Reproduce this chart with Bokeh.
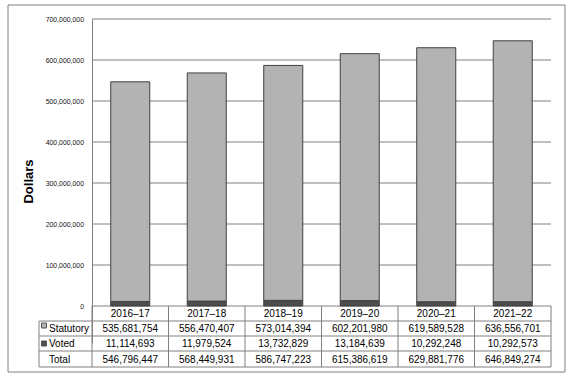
from bokeh.plotting import figure
from bokeh.models import Range1d, FixedTicker, NumeralTickFormatter, ColumnDataSource, LinearAxis
from bokeh.core.properties import value
from bokeh.embed import file_html
from bokeh.resources import INLINE

# ---- data ----
years = ["2016–17", "2017–18", "2018–19", "2019–20", "2020–21", "2021–22"]
statutory = [535681754, 556470407, 573014394, 602201980, 619589528, 636556701]
voted = [11114693, 11979524, 13732829, 13184639, 10292248, 10292573]
total = [546796447, 568449931, 586747223, 615386619, 629881776, 646849274]
row_labels = ["Statutory", "Voted", "Total"]
y_ticks = [0, 100000000, 200000000, 300000000, 400000000, 500000000, 600000000, 700000000]

# ---- layout helpers: canvas pixel position -> data units ----
ZERO_Y = 305.5      # canvas y of the zero line
PX_PER_100M = 41.0
AXIS_X = 91.5       # canvas x of the value axis (left edge of first column)
COL_W = 76.5


def ydata(py):
    return (ZERO_Y - py) * 1e8 / PX_PER_100M


def xdata(px):
    return -0.5 + (px - AXIS_X) / COL_W


FONT = "Liberation Sans"
GRID = "#808080"
W, H = 569, 376
n = len(years)
xs = list(range(n))

p = figure(width=W, height=H, output_backend="svg", toolbar_location=None,
           x_range=Range1d(xdata(0), xdata(W)), y_range=Range1d(ydata(H), ydata(0)),
           x_axis_type=None, y_axis_type=None,
           min_border_left=0, min_border_right=0, min_border_top=0, min_border_bottom=0)
p.outline_line_color = None
p.background_fill_color = "white"
p.border_fill_color = "white"
p.xgrid.visible = False
p.ygrid.visible = False

# value axis drawn at the left edge of the plot area
TABLE_BOTTOM = ydata(366.5)
yaxis = LinearAxis(fixed_location=-0.5, bounds=(ydata(342.5), y_ticks[-1]),
                   ticker=FixedTicker(ticks=y_ticks),
                   formatter=NumeralTickFormatter(format="0,0"))
yaxis.axis_line_color = GRID
yaxis.major_tick_out = 0
yaxis.major_tick_in = 0
yaxis.minor_tick_out = 0
yaxis.minor_tick_in = 0
yaxis.major_tick_line_color = None
yaxis.minor_tick_line_color = None
yaxis.major_label_standoff = 8
yaxis.major_label_text_font = FONT
yaxis.major_label_text_font_size = "6.9px"
yaxis.major_label_text_color = "#111111"
yaxis.axis_label = "Dollars"
yaxis.axis_label_text_font = FONT
yaxis.axis_label_text_font_size = "13px"
yaxis.axis_label_text_font_style = "bold"
yaxis.axis_label_text_color = "black"
yaxis.axis_label_standoff = 7
p.add_layout(yaxis, "left")

# horizontal gridlines at the tick values
p.segment(x0=[-0.5] * len(y_ticks), y0=y_ticks, x1=[n - 0.5] * len(y_ticks), y1=y_ticks,
          line_color=GRID, line_width=1)

# bars
src = ColumnDataSource(dict(x=xs, voted=voted, statutory=statutory))
p.vbar_stack(["voted", "statutory"], x="x", width=0.51, source=src,
             fill_color=["#4D4D4D", "#B3B3B3"], line_color="#404040", line_width=1)

# data table grid
col_edges = [i - 0.5 for i in range(n + 1)]
p.segment(x0=col_edges, y0=[TABLE_BOTTOM] * (n + 1),
          x1=col_edges, y1=[0] * (n + 1), line_color=GRID, line_width=1)
row_lines = [ydata(320.5), ydata(335.5), ydata(350.5), TABLE_BOTTOM]
label_left = xdata(38.5)
p.segment(x0=[label_left] * len(row_lines), y0=row_lines,
          x1=[n - 0.5] * len(row_lines), y1=row_lines, line_color=GRID, line_width=1)
p.segment(x0=[label_left], y0=[row_lines[0]], x1=[label_left], y1=[TABLE_BOTTOM],
          line_color=GRID, line_width=1)

# table text
def fmt(v):
    return f"{v:,}"

text_kw = dict(text_font=value(FONT), text_font_size="10px", text_align="center",
               text_baseline="middle", text_color="black")
y_head, y_stat, y_voted, y_total = ydata(312.5), ydata(327.5), ydata(342.8), ydata(358.5)
p.text(x=xs, y=[y_head] * n, text=years, **text_kw)
p.text(x=xs, y=[y_stat] * n, text=[fmt(v) for v in statutory], **text_kw)
p.text(x=xs, y=[y_voted] * n, text=[fmt(v) for v in voted], **text_kw)
p.text(x=xs, y=[y_total] * n, text=[fmt(v) for v in total], **text_kw)

# row labels with legend swatches
p.text(x=[xdata(48.5)] * 3, y=[y_stat, y_voted, y_total], text=row_labels,
       text_font=value(FONT), text_font_size="10px", text_align="left",
       text_baseline="middle", text_color="black")
p.scatter(x=[xdata(43.5)] * 2, y=[ydata(325), ydata(343)], marker="square", size=5,
          fill_color=["#B3B3B3", "#4D4D4D"], line_color="#555555", line_width=1)

# outer chart border
p.quad(left=[xdata(7.5)], right=[xdata(564.5)], top=[ydata(4.5)], bottom=[ydata(371.5)],
       fill_color=None, line_color=GRID, line_width=1)

open("out.html", "w").write(file_html(p, INLINE))
